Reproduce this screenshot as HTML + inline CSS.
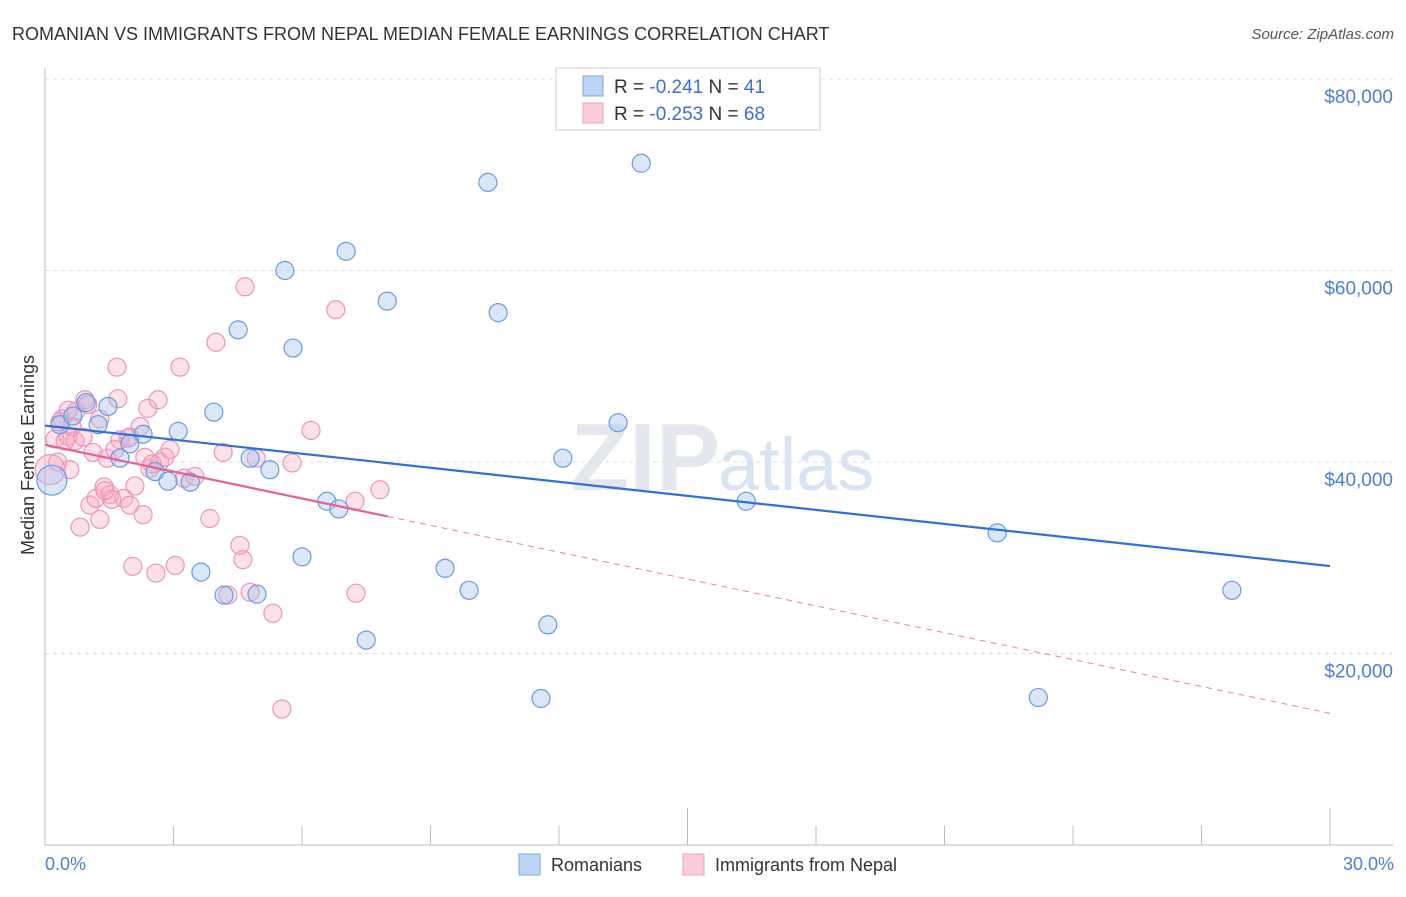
<!DOCTYPE html>
<html><head><meta charset="utf-8"><style>
body{margin:0;background:#fff;font-family:"Liberation Sans",sans-serif;}
svg text{font-family:"Liberation Sans",sans-serif;}
</style></head><body>
<svg id="chart" width="1406" height="892" xmlns="http://www.w3.org/2000/svg">
<text x="12" y="40" font-size="18" fill="#333">ROMANIAN VS IMMIGRANTS FROM NEPAL MEDIAN FEMALE EARNINGS CORRELATION CHART</text>
<text x="1394" y="39" font-size="15" fill="#555" font-style="italic" text-anchor="end">Source: ZipAtlas.com</text>
<text x="720" y="490" font-size="96" fill="#e4e8ee" text-anchor="end" font-family="Liberation Serif" font-weight="bold">ZIP</text>
<text x="718" y="490" font-size="74" fill="#d6e4f4">atlas</text>
<g id="grid"></g>
<g id="axes"></g>
<g id="points"></g>
<g id="trends"></g>
<text transform="translate(34,455) rotate(-90)" font-size="18" fill="#333" text-anchor="middle">Median Female Earnings</text>
<text x="45" y="870" font-size="18" fill="#4a7fd6">0.0%</text>
<text x="1394" y="870" font-size="18" fill="#4a7fd6" text-anchor="end">30.0%</text>
<g>
<rect x="519" y="854" width="21" height="21" fill="#bcd5f5" stroke="#7aa6e0"/>
<text x="551" y="871" font-size="18" fill="#333">Romanians</text>
<rect x="683" y="854" width="21" height="21" fill="#fbcddb" stroke="#eda0bb"/>
<text x="715" y="871" font-size="18" fill="#333">Immigrants from Nepal</text>
</g>
<g>
<rect x="556" y="68" width="264" height="62" fill="#fff" stroke="#ccc"/>
<rect x="583" y="76" width="20" height="20" fill="#bcd5f5" stroke="#7aa6e0"/>
<text x="614" y="93" font-size="19" fill="#333">R = <tspan fill="#3a6fd0">-0.241</tspan>   N = <tspan fill="#3a6fd0">41</tspan></text>
<rect x="583" y="103" width="20" height="20" fill="#fbcddb" stroke="#eda0bb"/>
<text x="614" y="120" font-size="19" fill="#333">R = <tspan fill="#3a6fd0">-0.253</tspan>   N = <tspan fill="#3a6fd0">68</tspan></text>
</g>
</svg>
<script>
const yTicks=[20000,40000,60000,80000];
const yTickLabels=["$20,000","$40,000","$60,000","$80,000"];
const xTicks=[0,3,6,9,12,15,18,21,24,27,30];
const romX=[0.16,0.35,0.65,0.96,1.47,1.24,1.75,2.29,2.57,2.87,3.11,3.39,3.64,3.94,4.18,4.51,4.79,4.95,5.25,5.60,5.79,6.00,6.58,6.86,7.03,7.50,7.99,9.34,9.90,10.34,10.58,11.58,11.74,12.09,13.38,13.92,16.37,22.23,23.19,27.71,1.98];
const romY=[38100,43900,44800,46200,45800,43900,40400,42900,39000,38000,43200,37900,28500,45200,26100,53800,40400,26200,39200,60000,51900,30100,35900,35100,62000,21400,56800,28900,26600,69200,55600,15300,23000,40400,44100,71200,35900,32600,15400,26600,41900];
const nepX=[0.12,0.23,0.30,0.40,0.47,0.54,0.63,0.72,0.82,0.93,1.00,1.05,1.12,1.19,1.28,1.38,1.45,1.52,1.56,1.68,1.70,1.75,1.84,1.94,1.98,2.05,2.22,2.29,2.33,2.40,2.45,2.59,2.64,2.68,2.80,2.92,3.04,3.15,3.25,3.85,3.99,4.16,4.27,4.55,4.62,4.67,4.79,4.93,5.32,5.53,5.77,6.21,6.79,7.24,7.26,7.82,0.54,0.70,0.35,0.89,2.50,1.98,1.63,0.58,1.28,2.10,3.50,1.40];
const nepY=[39200,42400,40000,44500,42200,42700,43700,45300,33200,46500,46000,35500,41000,36200,44500,37400,40400,36600,36100,49900,46600,42300,36200,42500,35500,29100,43700,34500,40500,45600,39300,28400,46500,40000,40500,41300,29200,49900,38300,34100,52500,41000,26100,31300,29800,58300,26400,40400,24200,14200,39900,43300,55900,35900,26300,37100,45400,42200,44200,42600,39800,42600,41300,39200,34000,37500,38500,37000];
// trend lines: [intercept $, slope $ per %]
const romTrend=[43800,-489];
const nepTrend=[41800,-935];
const nepSolidEnd=8.0;

const L=45,R=1330,B=845,T=79;
const sx=p=>L+p/30*(R-L);
const sy=v=>B-v/80000*(B-T);
const NS="http://www.w3.org/2000/svg";
function mk(tag,attrs,parent){const e=document.createElementNS(NS,tag);for(const k in attrs)e.setAttribute(k,attrs[k]);parent.appendChild(e);return e;}
const grid=document.getElementById('grid'),axes=document.getElementById('axes'),pts=document.getElementById('points'),tr=document.getElementById('trends');
yTicks.forEach((v,i)=>{
 const g=mk('line',{x1:L,x2:1393,y1:sy(v),y2:sy(v),stroke:'#ddd','stroke-dasharray':'4,4'},grid);
 
 
 const t=mk('text',{x:1393,y:sy(v)+24,'font-size':19,fill:'#4a7fd6','text-anchor':'end'},grid);
 t.textContent=yTickLabels[i];
 
 
});
const topLine=mk('line',{x1:L,x2:1393,y1:T,y2:T,stroke:'#ddd','stroke-dasharray':'4,4'},grid);


const ya=mk('line',{x1:L,x2:L,y1:68,y2:B,stroke:'#bbb'},axes);


const xa=mk('line',{x1:L,x2:1393,y1:B,y2:B,stroke:'#bbb'},axes);


xTicks.forEach((p,i)=>{
 const tall=(p===15||p===30);
 const t=mk('line',{x1:sx(p),x2:sx(p),y1:tall?808:826,y2:B,stroke:'#bbb'},axes);
 
 
});
function dots(X,Y,fill,stroke,name){
 X.forEach((x,i)=>{
  const c=mk('circle',{cx:sx(x),cy:sy(Y[i]),r:i===0?15:9,fill:fill,stroke:stroke,'stroke-width':1.2},pts);
  
  
 });
}
dots(nepX,nepY,'rgba(246,170,196,0.35)','#eb96b5','nepal-point');
dots(romX,romY,'rgba(160,196,240,0.4)','#6a9be0','romanian-point');
const f=(t,p)=>t[0]+t[1]*p;
const rl=mk('line',{x1:sx(0),y1:sy(f(romTrend,0)),x2:sx(30),y2:sy(f(romTrend,30)),stroke:'#2f6fd6','stroke-width':2.2},tr);


const nl=mk('line',{x1:sx(0),y1:sy(f(nepTrend,0)),x2:sx(nepSolidEnd),y2:sy(f(nepTrend,nepSolidEnd)),stroke:'#e8608e','stroke-width':2.2},tr);


const nd=mk('line',{x1:sx(nepSolidEnd),y1:sy(f(nepTrend,nepSolidEnd)),x2:sx(30),y2:sy(f(nepTrend,30)),stroke:'#e8849f','stroke-width':1,'stroke-dasharray':'6,5'},tr);


</script>
</body></html>
